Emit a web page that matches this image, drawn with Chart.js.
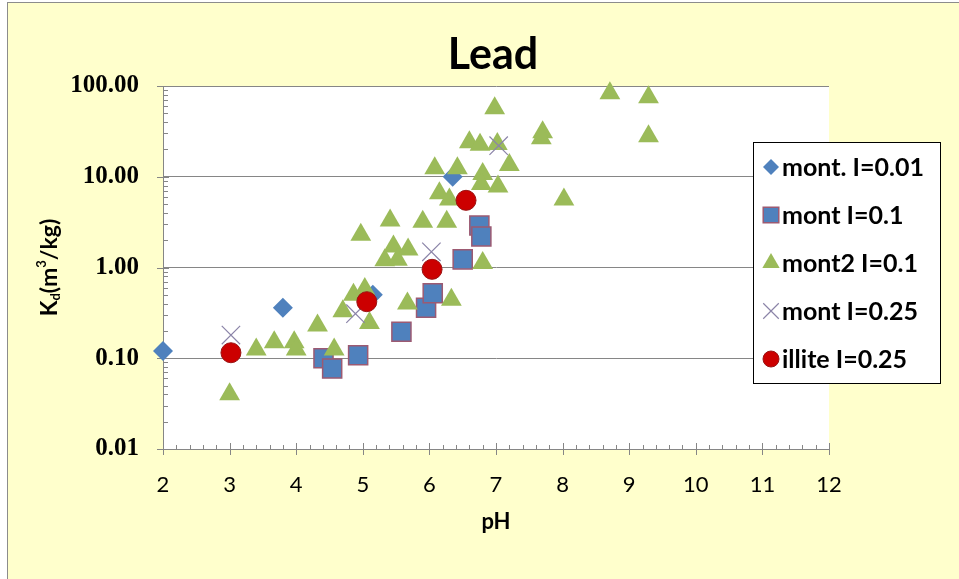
<!DOCTYPE html>
<html>
<head>
<meta charset="utf-8">
<title>Lead</title>
<script src="https://cdn.jsdelivr.net/npm/chart.js"></script>
<style>
  html, body { margin: 0; padding: 0; background: #ffffff; }
  #frame {
    position: absolute; left: 7px; top: 2px;
    width: 960px; height: 590px;
    background: #FFFFCC;
    border: 1px solid #8c8c8c;
  }
  #kdChart { position: absolute; left: 0; top: 0; }
</style>
</head>
<body>
<div id="frame"><canvas id="kdChart" width="951" height="576"></canvas></div>
<script>
// pH / Kd measurements, one pair of arrays per series
const montPH  = [2.0, 3.8, 5.15, 6.35];
const montKd  = [0.12, 0.36, 0.50, 10.0];

const mont01PH = [4.41, 4.54, 4.93, 5.58, 5.95, 6.05, 6.5, 6.75, 6.78];
const mont01Kd = [0.10, 0.077, 0.108, 0.196, 0.36, 0.52, 1.23, 2.9, 2.2];

const mont2PH = [3.0, 3.4, 3.67, 3.97, 4.0, 4.32, 4.57, 4.7, 4.86, 5.03,
                 5.1, 4.97, 5.33, 5.46, 5.52, 5.68, 5.41, 5.9, 5.67, 6.33,
                 6.26, 6.8, 6.15, 6.3, 6.08, 6.42, 6.8, 6.78, 7.03, 7.2,
                 6.98, 6.6, 6.76, 7.02, 7.7, 7.68, 8.02, 8.71, 9.29, 9.29];
const mont2Kd = [0.04, 0.125, 0.15, 0.15, 0.125, 0.23, 0.125, 0.33, 0.5, 0.58,
                 0.245, 2.3, 1.2, 1.7, 1.22, 1.58, 3.3, 3.2, 0.4, 0.44,
                 3.2, 1.12, 6.6, 5.6, 12.4, 12.4, 10.7, 8.3, 7.8, 13.5,
                 57, 24, 22.5, 23, 31, 26.5, 5.6, 83, 75, 28];

const mont25PH = [3.02, 4.89, 6.03, 7.04];
const mont25Kd = [0.18, 0.31, 1.49, 22];

const illitePH = [3.02, 5.06, 6.04, 6.55];
const illiteKd = [0.115, 0.42, 0.955, 5.5];

const seriesNames = ['mont. I=0.01', 'mont I=0.1', 'mont2 I=0.1', 'mont I=0.25', 'illite I=0.25'];
const kdTicks = [0.01, 0.1, 1, 10, 100];
const pHMin = 2, pHMax = 12;
const chartTitle = 'Lead';

function pairs(xs, ys) {
  return xs.map((x, i) => ({ x: x, y: ys[i] }));
}

const AXIS_GREY = '#868686';

// white plot area, tick marks and titles drawn before the points
const plotDecor = {
  id: 'plotDecor',
  beforeDraw(chart) {
    const a = chart.chartArea, ctx = chart.ctx;
    ctx.save();
    ctx.fillStyle = '#ffffff';
    ctx.fillRect(a.left, a.top, a.right - a.left, a.bottom - a.top);
    ctx.restore();
  },
  beforeDatasetsDraw(chart) {
    const ctx = chart.ctx, a = chart.chartArea;
    const xs = chart.scales.x, ys = chart.scales.y;
    ctx.save();
    ctx.strokeStyle = AXIS_GREY;
    ctx.lineWidth = 1;
    ctx.beginPath();
    // x axis: major ticks cross, minor ticks every 0.2 inside
    for (let v = pHMin; v <= pHMax + 1e-9; v += 0.2) {
      const px = Math.round(xs.getPixelForValue(v)) + 0.5;
      const major = Math.abs(v - Math.round(v)) < 1e-6;
      ctx.moveTo(px, a.bottom + (major ? 6 : 0));
      ctx.lineTo(px, a.bottom - (major ? 6 : 4));
    }
    // y axis: decades cross, 2..9 minors inside
    kdTicks.forEach((d, i) => {
      const py = Math.round(ys.getPixelForValue(d)) + 0.5;
      ctx.moveTo(a.left - 6, py);
      ctx.lineTo(a.left + 6, py);
      if (i < kdTicks.length - 1) {
        for (let k = 2; k <= 9; k++) {
          const my = Math.round(ys.getPixelForValue(d * k)) + 0.5;
          ctx.moveTo(a.left, my);
          ctx.lineTo(a.left + 5, my);
        }
      }
    });
    ctx.stroke();

    ctx.fillStyle = '#000';
    ctx.textAlign = 'center';
    ctx.textBaseline = 'middle';

    // chart title, centred over the plot
    ctx.font = 'bold 43px Lato';
    ctx.fillText(chartTitle, (a.left + a.right) / 2 - 3, 52);

    // x title
    ctx.font = 'bold 22px Lato';
    ctx.fillText('pH', (a.left + a.right) / 2, a.bottom + 73);

    // y title with subscript d and superscript 3
    ctx.translate(42, (a.top + a.bottom) / 2);
    ctx.rotate(-Math.PI / 2);
    const big = 'bold 23px Lato', small = 'bold 13px Lato';
    const parts = [['K', big, 0], ['d', small, 6], ['(m', big, 0], ['3', small, -8], ['/kg)', big, 0]];
    let total = 0;
    parts.forEach(p => { ctx.font = p[1]; total += ctx.measureText(p[0]).width; });
    let x = -total / 2;
    ctx.textAlign = 'left';
    parts.forEach(p => {
      ctx.font = p[1];
      ctx.fillText(p[0], x, p[2]);
      x += ctx.measureText(p[0]).width;
    });
    ctx.restore();
  }
};

// boxed legend sitting over the right edge of the plot
const boxLegend = {
  id: 'boxLegend',
  afterDatasetsDraw(chart) {
    const ctx = chart.ctx;
    const bx = 745, by = 139, bw = 187, bh = 241;
    ctx.save();
    ctx.fillStyle = '#ffffff';
    ctx.fillRect(bx, by, bw, bh);
    ctx.strokeStyle = '#000000';
    ctx.lineWidth = 1;
    ctx.strokeRect(bx + 0.5, by + 0.5, bw, bh);
    ctx.font = 'bold 25px Lato';
    ctx.textBaseline = 'middle';
    ctx.textAlign = 'left';
    chart.data.datasets.forEach((ds, i) => {
      const cy = by + 25 + i * 48;
      ctx.fillStyle = ds.backgroundColor;
      ctx.strokeStyle = ds.borderColor;
      ctx.lineWidth = ds.borderWidth;
      Chart.helpers.drawPoint(ctx, {
        pointStyle: ds.pointStyle,
        radius: ds.legendRadius,
        rotation: 0,
        borderWidth: ds.borderWidth
      }, bx + 18, cy);
      ctx.fillStyle = '#000';
      ctx.fillText(ds.label, bx + 29, cy + 1);
    });
    ctx.restore();
  }
};

new Chart(document.getElementById('kdChart'), {
  type: 'scatter',
  data: {
    datasets: [
      { label: seriesNames[0], data: pairs(montPH, montKd), order: 5, clip: false,
        pointStyle: 'rectRot', pointRadius: 10, legendRadius: 8,
        backgroundColor: '#4F81BD', borderColor: '#4F81BD', borderWidth: 0 },
      { label: seriesNames[1], data: pairs(mont01PH, mont01Kd), order: 4, clip: false,
        pointStyle: 'rect', pointRadius: 13.5, legendRadius: 11,
        backgroundColor: '#4F81BD', borderColor: '#9C5A72', borderWidth: 1.5 },
      { label: seriesNames[2], data: pairs(mont2PH, mont2Kd), order: 3, clip: false,
        pointStyle: 'triangle', pointRadius: 12, legendRadius: 10,
        backgroundColor: '#9BBB59', borderColor: '#9BBB59', borderWidth: 0 },
      { label: seriesNames[3], data: pairs(mont25PH, mont25Kd), order: 2, clip: false,
        pointStyle: 'crossRot', pointRadius: 13, legendRadius: 11,
        backgroundColor: '#8B84A8', borderColor: '#8B84A8', borderWidth: 1.2 },
      { label: seriesNames[4], data: pairs(illitePH, illiteKd), order: 1, clip: false,
        pointStyle: 'circle', pointRadius: 10, legendRadius: 8,
        backgroundColor: '#CC0000', borderColor: '#9A1414', borderWidth: 1 }
    ]
  },
  options: {
    responsive: false,
    devicePixelRatio: 1,
    animation: false,
    layout: { padding: { left: 0, right: 130, top: 83, bottom: 0 } },
    plugins: {
      legend: { display: false },
      tooltip: { enabled: false },
      title: { display: false }
    },
    scales: {
      x: {
        type: 'linear',
        min: pHMin, max: pHMax,
        ticks: { stepSize: 1, color: '#000', padding: 23,
                 font: { family: 'Lato', size: 22 } },
        grid: { display: false, drawTicks: false },
        border: { display: true, color: AXIS_GREY, width: 1 },
        afterFit(scale) { scale.height = 130; }
      },
      y: {
        type: 'logarithmic',
        min: 0.01, max: 100,
        afterBuildTicks(scale) { scale.ticks = kdTicks.map(v => ({ value: v })); },
        ticks: {
          color: '#000', padding: 24,
          font: { family: 'Liberation Serif', size: 25, weight: 'bold' },
          callback: v => Number(v).toFixed(2)
        },
        grid: { color: AXIS_GREY, drawTicks: false },
        border: { display: true, color: AXIS_GREY, width: 1 },
        afterFit(scale) { scale.width = 155; }
      }
    }
  },
  plugins: [plotDecor, boxLegend]
});
</script>
</body>
</html>
